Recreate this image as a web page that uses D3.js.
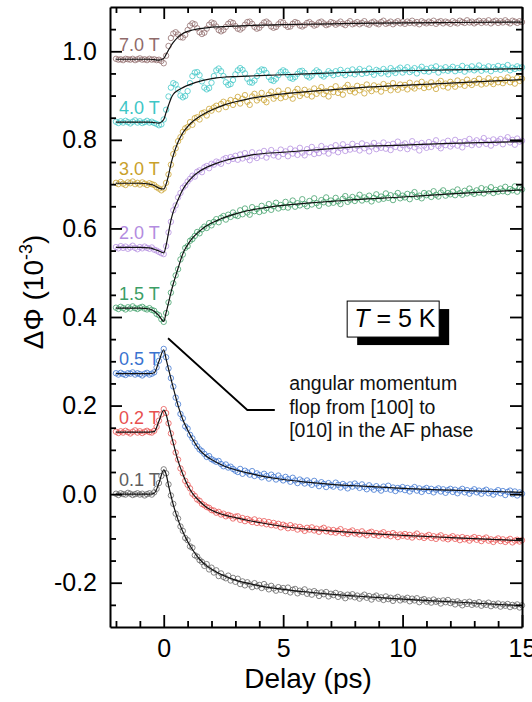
<!DOCTYPE html>
<html>
<head>
<meta charset="utf-8">
<script src="https://cdn.jsdelivr.net/npm/d3@7"></script>
<style>
html, body { margin: 0; padding: 0; background: #fff; }
svg { display: block; }
text { font-family: "Liberation Sans", Arial, sans-serif; }
</style>
</head>
<body>
<svg id="chart" width="532" height="702"></svg>
<script>
// Pump-probe delay (ps), one sample every 0.1 ps
const delay = [
  -2.0,-1.9,-1.8,-1.7,-1.6,-1.5,-1.4,-1.3,-1.2,-1.1,-1.0,-0.9,-0.8,-0.7,-0.6,-0.5,-0.4,-0.3,-0.2,-0.1,0.0,
  0.1,0.2,0.3,0.4,0.5,0.6,0.7,0.8,0.9,1.0,
  1.1,1.2,1.3,1.4,1.5,1.6,1.7,1.8,1.9,2.0,
  2.1,2.2,2.3,2.4,2.5,2.6,2.7,2.8,2.9,3.0,
  3.1,3.2,3.3,3.4,3.5,3.6,3.7,3.8,3.9,4.0,
  4.1,4.2,4.3,4.4,4.5,4.6,4.7,4.8,4.9,5.0,
  5.1,5.2,5.3,5.4,5.5,5.6,5.7,5.8,5.9,6.0,
  6.1,6.2,6.3,6.4,6.5,6.6,6.7,6.8,6.9,7.0,
  7.1,7.2,7.3,7.4,7.5,7.6,7.7,7.8,7.9,8.0,
  8.1,8.2,8.3,8.4,8.5,8.6,8.7,8.8,8.9,9.0,
  9.1,9.2,9.3,9.4,9.5,9.6,9.7,9.8,9.9,10.0,
  10.1,10.2,10.3,10.4,10.5,10.6,10.7,10.8,10.9,11.0,
  11.1,11.2,11.3,11.4,11.5,11.6,11.7,11.8,11.9,12.0,
  12.1,12.2,12.3,12.4,12.5,12.6,12.7,12.8,12.9,13.0,
  13.1,13.2,13.3,13.4,13.5,13.6,13.7,13.8,13.9,14.0,
  14.1,14.2,14.3,14.4,14.5,14.6,14.7,14.8,14.9,15.0
];

// Measured ΔΦ (10^-3) for each applied field
const phi_7T = [
  0.983,0.981,0.982,0.980,0.983,0.982,0.981,0.983,0.980,0.982,0.984,0.981,0.982,0.980,0.983,0.981,
  0.982,0.980,0.981,0.978,0.973,
  0.990,1.012,1.030,1.040,1.043,1.038,1.032,1.031,1.037,1.048,
  1.058,1.063,1.061,1.052,1.043,1.039,1.042,1.051,1.060,1.065,
  1.063,1.056,1.048,1.045,1.048,1.055,1.062,1.066,1.064,1.057,
  1.051,1.049,1.053,1.060,1.066,1.067,1.062,1.055,1.051,1.053,
  1.059,1.065,1.067,1.063,1.056,1.053,1.055,1.061,1.066,1.065,
  1.059,1.055,1.056,1.062,1.066,1.064,1.058,1.056,1.059,1.064,
  1.066,1.062,1.058,1.060,1.065,1.067,1.063,1.059,1.061,1.066,
  1.064,1.060,1.063,1.067,1.062,1.059,1.064,1.068,1.061,1.063,
  1.066,1.061,1.064,1.068,1.062,1.060,1.065,1.067,1.063,1.061,
  1.066,1.069,1.062,1.064,1.067,1.061,1.065,1.068,1.063,1.066,
  1.062,1.067,1.064,1.069,1.063,1.066,1.061,1.068,1.065,1.063,
  1.067,1.064,1.069,1.062,1.066,1.068,1.063,1.067,1.065,1.062,
  1.068,1.065,1.063,1.069,1.066,1.064,1.070,1.065,1.067,1.063,
  1.066,1.069,1.064,1.068,1.065,1.070,1.063,1.067,1.069,1.064,
  1.068,1.065,1.070,1.066,1.063,1.069,1.067,1.064,1.068,1.066
];
const phi_4T = [
  0.841,0.838,0.842,0.839,0.843,0.840,0.837,0.841,0.844,0.839,0.842,0.838,0.840,0.843,0.839,0.841,
  0.838,0.836,0.833,0.835,0.846,
  0.868,0.898,0.918,0.928,0.925,0.914,0.900,0.896,0.899,0.910,
  0.928,0.944,0.952,0.953,0.946,0.932,0.918,0.914,0.917,0.929,
  0.944,0.957,0.961,0.955,0.944,0.930,0.924,0.926,0.935,0.948,
  0.957,0.962,0.958,0.950,0.938,0.930,0.929,0.934,0.944,0.955,
  0.959,0.958,0.951,0.942,0.935,0.933,0.938,0.946,0.953,0.957,
  0.954,0.947,0.940,0.938,0.942,0.949,0.955,0.956,0.951,0.944,
  0.941,0.945,0.952,0.957,0.953,0.946,0.943,0.948,0.955,0.951,
  0.946,0.955,0.949,0.958,0.951,0.946,0.956,0.950,0.959,0.948,
  0.954,0.960,0.949,0.956,0.951,0.961,0.953,0.947,0.958,0.955,
  0.950,0.960,0.954,0.948,0.962,0.956,0.951,0.959,0.963,0.952,
  0.958,0.964,0.953,0.957,0.962,0.950,0.959,0.965,0.955,0.960,
  0.954,0.963,0.958,0.966,0.952,0.961,0.957,0.964,0.956,0.960,
  0.965,0.955,0.962,0.958,0.967,0.954,0.963,0.959,0.966,0.957,
  0.961,0.968,0.956,0.963,0.959,0.966,0.955,0.964,0.960,0.967,
  0.958,0.965,0.961,0.969,0.957,0.963,0.960,0.966,0.962,0.964
];
const phi_3T = [
  0.703,0.700,0.705,0.701,0.698,0.704,0.702,0.706,0.700,0.703,0.699,0.704,0.701,0.698,0.702,0.700,
  0.698,0.693,0.690,0.686,0.690,
  0.703,0.722,0.744,0.768,0.781,0.797,0.806,0.818,0.826,0.829,
  0.840,0.834,0.849,0.851,0.846,0.860,0.862,0.855,0.870,0.866,
  0.873,0.877,0.869,0.881,0.886,0.874,0.883,0.890,0.879,0.888,
  0.897,0.882,0.893,0.901,0.886,0.879,0.898,0.904,0.889,0.895,
  0.906,0.890,0.885,0.902,0.909,0.893,0.899,0.911,0.894,0.904,
  0.897,0.912,0.901,0.893,0.908,0.915,0.899,0.905,0.913,0.902,
  0.909,0.898,0.916,0.904,0.911,0.919,0.903,0.910,0.898,0.915,
  0.908,0.921,0.906,0.913,0.902,0.918,0.924,0.910,0.915,0.907,
  0.922,0.912,0.919,0.905,0.925,0.916,0.910,0.923,0.914,0.920,
  0.909,0.926,0.917,0.922,0.912,0.928,0.919,0.913,0.925,0.918,
  0.924,0.914,0.929,0.920,0.916,0.927,0.921,0.931,0.917,0.925,
  0.919,0.930,0.923,0.915,0.928,0.933,0.921,0.927,0.918,0.931,
  0.926,0.920,0.934,0.925,0.930,0.922,0.936,0.928,0.924,0.933,
  0.929,0.938,0.925,0.932,0.927,0.939,0.931,0.926,0.936,0.930,
  0.937,0.928,0.934,0.941,0.930,0.936,0.927,0.940,0.933,0.938
];
const phi_2T = [
  0.558,0.555,0.560,0.556,0.559,0.554,0.557,0.561,0.556,0.553,0.558,0.555,0.559,0.556,0.554,0.557,
  0.552,0.550,0.547,0.544,0.542,
  0.560,0.591,0.615,0.641,0.652,0.670,0.680,0.692,0.697,0.706,
  0.712,0.719,0.717,0.728,0.731,0.727,0.738,0.741,0.736,0.746,
  0.744,0.751,0.749,0.746,0.756,0.759,0.752,0.761,0.757,0.764,
  0.755,0.767,0.758,0.770,0.761,0.754,0.772,0.763,0.759,0.771,
  0.764,0.775,0.760,0.769,0.777,0.765,0.771,0.762,0.778,0.768,
  0.774,0.763,0.780,0.769,0.776,0.766,0.782,0.771,0.765,0.779,
  0.772,0.784,0.768,0.777,0.770,0.786,0.774,0.780,0.769,0.783,
  0.776,0.788,0.772,0.781,0.790,0.775,0.784,0.778,0.791,0.780,
  0.786,0.776,0.792,0.781,0.788,0.774,0.785,0.793,0.779,0.787,
  0.782,0.794,0.780,0.789,0.777,0.791,0.784,0.796,0.781,0.788,
  0.792,0.779,0.786,0.797,0.783,0.790,0.776,0.793,0.787,0.782,
  0.795,0.784,0.791,0.799,0.786,0.781,0.794,0.788,0.798,0.785,
  0.790,0.800,0.787,0.795,0.783,0.797,0.791,0.802,0.788,0.794,
  0.799,0.789,0.796,0.804,0.791,0.798,0.787,0.801,0.793,0.797,
  0.802,0.790,0.799,0.806,0.794,0.800,0.789,0.803,0.796,0.798
];
const phi_1p5T = [
  0.421,0.418,0.423,0.420,0.417,0.422,0.419,0.424,0.420,0.418,0.421,0.423,0.419,0.417,0.420,0.416,
  0.414,0.407,0.404,0.395,0.389,
  0.409,0.433,0.455,0.476,0.494,0.508,0.530,0.541,0.556,0.560,
  0.572,0.576,0.583,0.592,0.589,0.598,0.604,0.601,0.612,0.607,
  0.615,0.621,0.614,0.624,0.628,0.620,0.631,0.626,0.636,0.630,
  0.628,0.641,0.632,0.645,0.636,0.631,0.648,0.639,0.644,0.637,
  0.651,0.640,0.646,0.655,0.642,0.650,0.658,0.645,0.653,0.648,
  0.660,0.647,0.654,0.663,0.649,0.657,0.652,0.666,0.655,0.650,
  0.662,0.654,0.668,0.657,0.651,0.664,0.659,0.670,0.656,0.663,
  0.658,0.669,0.661,0.655,0.667,0.673,0.660,0.665,0.671,0.662,
  0.668,0.676,0.663,0.670,0.666,0.674,0.661,0.669,0.677,0.665,
  0.672,0.667,0.679,0.669,0.675,0.664,0.673,0.680,0.668,0.674,
  0.670,0.678,0.666,0.676,0.682,0.671,0.674,0.668,0.680,0.675,
  0.679,0.671,0.684,0.676,0.672,0.681,0.686,0.674,0.680,0.677,
  0.683,0.675,0.688,0.680,0.676,0.685,0.679,0.690,0.682,0.678,
  0.686,0.681,0.691,0.679,0.688,0.684,0.693,0.680,0.687,0.683,
  0.690,0.684,0.694,0.682,0.689,0.686,0.695,0.683,0.691,0.688
];
const phi_0p5T = [
  0.273,0.270,0.274,0.271,0.269,0.273,0.272,0.275,0.270,0.273,0.271,0.268,0.272,0.274,0.270,0.272,
  0.275,0.286,0.301,0.315,0.328,
  0.309,0.284,0.262,0.243,0.218,0.203,0.181,0.171,0.153,0.148,
  0.134,0.126,0.116,0.108,0.101,0.097,0.091,0.084,0.086,0.079,
  0.076,0.073,0.075,0.068,0.063,0.067,0.060,0.062,0.057,0.053,
  0.050,0.057,0.046,0.053,0.049,0.044,0.052,0.041,0.047,0.043,
  0.038,0.046,0.041,0.035,0.044,0.039,0.033,0.042,0.036,0.031,
  0.039,0.034,0.028,0.037,0.031,0.025,0.033,0.029,0.024,0.031,
  0.026,0.021,0.030,0.024,0.018,0.027,0.023,0.016,0.025,0.020,
  0.017,0.026,0.021,0.015,0.023,0.019,0.013,0.022,0.017,0.024,
  0.019,0.014,0.022,0.016,0.011,0.020,0.015,0.010,0.018,0.013,
  0.008,0.017,0.012,0.019,0.010,0.015,0.007,0.014,0.011,0.016,
  0.009,0.014,0.006,0.012,0.016,0.008,0.013,0.005,0.011,0.014,
  0.007,0.012,0.004,0.010,0.013,0.006,0.011,0.003,0.009,0.012,
  0.005,0.010,0.002,0.008,0.012,0.004,0.009,0.001,0.007,0.011,
  0.004,0.008,0.001,0.007,0.010,0.002,0.006,-0.001,0.005,0.009,
  0.002,0.007,-0.002,0.005,0.008,0.000,0.006,-0.003,0.004,0.001
];
const phi_0p2T = [
  0.141,0.138,0.142,0.139,0.143,0.140,0.137,0.141,0.144,0.139,0.142,0.138,0.141,0.143,0.140,0.139,
  0.143,0.152,0.166,0.180,0.192,
  0.183,0.160,0.137,0.117,0.094,0.078,0.058,0.047,0.030,0.021,
  0.013,0.001,-0.004,-0.012,-0.015,-0.022,-0.025,-0.029,-0.031,-0.036,
  -0.037,-0.042,-0.040,-0.046,-0.044,-0.050,-0.047,-0.049,-0.055,-0.051,
  -0.050,-0.058,-0.054,-0.061,-0.056,-0.059,-0.063,-0.057,-0.065,-0.060,
  -0.066,-0.061,-0.068,-0.063,-0.070,-0.065,-0.071,-0.067,-0.075,-0.069,
  -0.072,-0.077,-0.070,-0.076,-0.073,-0.080,-0.074,-0.078,-0.083,-0.076,
  -0.080,-0.075,-0.082,-0.078,-0.085,-0.079,-0.076,-0.084,-0.080,-0.086,
  -0.081,-0.087,-0.083,-0.079,-0.088,-0.084,-0.090,-0.085,-0.082,-0.089,
  -0.086,-0.091,-0.084,-0.089,-0.093,-0.087,-0.085,-0.092,-0.088,-0.094,
  -0.089,-0.086,-0.093,-0.090,-0.095,-0.088,-0.092,-0.097,-0.091,-0.094,
  -0.090,-0.096,-0.092,-0.098,-0.093,-0.089,-0.097,-0.094,-0.099,-0.095,
  -0.092,-0.099,-0.095,-0.101,-0.096,-0.093,-0.100,-0.097,-0.102,-0.098,
  -0.095,-0.101,-0.098,-0.104,-0.097,-0.102,-0.099,-0.105,-0.100,-0.097,
  -0.103,-0.099,-0.106,-0.101,-0.098,-0.105,-0.102,-0.108,-0.103,-0.100,
  -0.106,-0.102,-0.108,-0.104,-0.101,-0.109,-0.105,-0.103,-0.107,-0.104
];
const phi_0p1T = [
  0.001,-0.002,0.002,0.000,-0.001,0.003,0.001,-0.002,0.000,0.002,-0.001,0.001,-0.003,0.000,0.002,-0.001,
  0.004,0.012,0.025,0.041,0.056,
  0.047,0.022,-0.003,-0.022,-0.044,-0.055,-0.073,-0.083,-0.099,-0.104,
  -0.118,-0.121,-0.138,-0.141,-0.149,-0.153,-0.162,-0.158,-0.170,-0.166,
  -0.177,-0.172,-0.185,-0.179,-0.187,-0.190,-0.184,-0.195,-0.189,-0.198,
  -0.191,-0.203,-0.197,-0.206,-0.199,-0.204,-0.210,-0.201,-0.208,-0.205,
  -0.212,-0.203,-0.209,-0.215,-0.207,-0.213,-0.218,-0.210,-0.216,-0.212,
  -0.219,-0.211,-0.222,-0.216,-0.214,-0.224,-0.218,-0.221,-0.215,-0.225,
  -0.220,-0.227,-0.219,-0.223,-0.230,-0.222,-0.226,-0.221,-0.231,-0.225,
  -0.228,-0.223,-0.232,-0.226,-0.229,-0.235,-0.227,-0.231,-0.226,-0.233,
  -0.229,-0.236,-0.231,-0.227,-0.234,-0.230,-0.238,-0.232,-0.229,-0.236,
  -0.233,-0.239,-0.231,-0.237,-0.234,-0.241,-0.235,-0.232,-0.240,-0.236,
  -0.238,-0.234,-0.242,-0.236,-0.240,-0.235,-0.244,-0.239,-0.237,-0.243,
  -0.240,-0.245,-0.238,-0.243,-0.241,-0.247,-0.240,-0.244,-0.239,-0.246,
  -0.243,-0.249,-0.242,-0.246,-0.251,-0.244,-0.248,-0.243,-0.250,-0.246,
  -0.249,-0.244,-0.252,-0.247,-0.250,-0.245,-0.253,-0.248,-0.251,-0.247,
  -0.254,-0.249,-0.252,-0.248,-0.255,-0.250,-0.253,-0.249,-0.256,-0.251
];

// Model fits, sampled on a coarser delay grid
const fitDelay = [-2,-1,-0.6,-0.4,-0.2,0,0.1,0.2,0.3,0.4,0.6,0.8,1,1.2,1.5,1.8,2.2,2.6,3,3.5,4,5,6,7,8,10,12,15];
const fit_7T   = [0.982,0.982,0.982,0.981,0.980,0.984,0.993,1.003,1.012,1.020,1.032,1.040,1.045,1.048,1.051,1.053,1.055,1.056,1.057,1.058,1.059,1.060,1.061,1.062,1.063,1.064,1.065,1.066];
const fit_4T   = [0.840,0.840,0.840,0.839,0.838,0.846,0.862,0.878,0.893,0.903,0.912,0.918,0.923,0.927,0.932,0.936,0.940,0.942,0.943,0.944,0.945,0.947,0.949,0.951,0.953,0.956,0.958,0.961];
const fit_3T   = [0.702,0.702,0.700,0.697,0.691,0.689,0.700,0.720,0.745,0.765,0.795,0.816,0.830,0.841,0.853,0.862,0.872,0.880,0.886,0.892,0.897,0.904,0.909,0.913,0.917,0.923,0.928,0.936];
const fit_2T   = [0.557,0.557,0.556,0.553,0.549,0.545,0.562,0.590,0.618,0.638,0.665,0.688,0.704,0.716,0.729,0.738,0.747,0.754,0.759,0.764,0.768,0.772,0.776,0.780,0.784,0.788,0.792,0.796];
const fit_1p5T = [0.420,0.420,0.418,0.413,0.403,0.390,0.410,0.432,0.455,0.475,0.510,0.543,0.563,0.578,0.594,0.606,0.617,0.626,0.633,0.640,0.645,0.652,0.657,0.661,0.665,0.671,0.678,0.687];
const fit_0p5T = [0.272,0.272,0.272,0.274,0.300,0.326,0.305,0.283,0.261,0.240,0.200,0.168,0.145,0.125,0.100,0.085,0.072,0.062,0.055,0.048,0.042,0.033,0.027,0.022,0.019,0.013,0.009,0.004];
const fit_0p2T = [0.140,0.140,0.140,0.141,0.165,0.190,0.180,0.158,0.136,0.115,0.075,0.045,0.020,0.002,-0.016,-0.030,-0.041,-0.048,-0.053,-0.059,-0.064,-0.073,-0.079,-0.083,-0.087,-0.093,-0.098,-0.105];
const fit_0p1T = [0.000,0.000,0.000,0.002,0.025,0.055,0.045,0.020,-0.003,-0.024,-0.058,-0.085,-0.107,-0.125,-0.147,-0.162,-0.176,-0.186,-0.194,-0.201,-0.207,-0.215,-0.221,-0.226,-0.230,-0.237,-0.243,-0.252];

const fieldLabels = ["7.0 T","4.0 T","3.0 T","2.0 T","1.5 T","0.5 T","0.2 T","0.1 T"];
const fieldColors = ["#8f6b6b","#3ec6c6","#c9a12b","#b38ce0","#3c9e66","#3a73d0","#e8504f","#606060"];
const measured = [phi_7T, phi_4T, phi_3T, phi_2T, phi_1p5T, phi_0p5T, phi_0p2T, phi_0p1T];
const fitted   = [fit_7T, fit_4T, fit_3T, fit_2T, fit_1p5T, fit_0p5T, fit_0p2T, fit_0p1T];

// Axis ticks
const xMajor = [0, 5, 10, 15];
const xMajorLabels = ["0", "5", "10", "15"];
const xMinor = [-2,-1,1,2,3,4,6,7,8,9,11,12,13,14];
const yMajor = [-0.2, 0, 0.2, 0.4, 0.6, 0.8, 1.0];
const yMajorLabels = ["-0.2", "0.0", "0.2", "0.4", "0.6", "0.8", "1.0"];
const yMinor = [-0.25,-0.15,-0.1,-0.05,0.05,0.1,0.15,0.25,0.3,0.35,0.45,0.5,0.55,0.65,0.7,0.75,0.85,0.9,0.95,1.05];

const series = fieldLabels.map((label, k) => ({
  label, color: fieldColors[k],
  points: delay.map((t, i) => ({ t, v: measured[k][i] })),
  fit: fitDelay.map((t, i) => ({ t, v: fitted[k][i] }))
}));

const svg = d3.select("#chart");
const frame = { left: 110, right: 522, top: 7, bottom: 627 };
const x = d3.scaleLinear().domain([-2.25, 15]).range([frame.left, frame.right]);
const y = d3.scaleLinear().domain([-0.3, 1.1]).range([frame.bottom, frame.top]);

// data markers
const gData = svg.append("g");
series.forEach(s => {
  gData.append("g")
    .selectAll("circle")
    .data(s.points)
    .join("circle")
    .attr("cx", d => x(d.t))
    .attr("cy", d => y(d.v))
    .attr("r", 2.7)
    .attr("fill", "none")
    .attr("stroke", s.color)
    .attr("stroke-opacity", 0.85)
    .attr("stroke-width", 0.9);
});

// fit curves
const line = d3.line().x(d => x(d.t)).y(d => y(d.v)).curve(d3.curveMonotoneX);
svg.append("g").selectAll("path")
  .data(series)
  .join("path")
  .attr("d", s => line(s.fit))
  .attr("fill", "none")
  .attr("stroke", "#111")
  .attr("stroke-width", 1.2);

// field labels above each baseline
svg.append("g").selectAll("text")
  .data(series)
  .join("text")
  .attr("x", frame.left + 9)
  .attr("y", s => y(s.points[0].v) - 8)
  .attr("fill", s => s.color)
  .attr("font-size", 18)
  .text(s => s.label);

// axes
function styleAxis(g, keepDomain) {
  g.attr("font-family", null).attr("font-size", null);
  g.select(".domain").attr("stroke-width", keepDomain ? 2 : 0).attr("stroke", "#000");
  g.selectAll(".tick line").attr("stroke", "#000").attr("stroke-width", 1.8);
  g.selectAll(".tick text").attr("font-size", 25).attr("fill", "#000")
    .attr("font-family", '"Liberation Sans", Arial, sans-serif');
}
function addAxis(gen, transform, ticks, size, labels, keepDomain) {
  const a = gen.tickValues(ticks).tickSize(-size).tickSizeOuter(0)
    .tickFormat(labels ? (d, i) => labels[i] : () => "");
  const g = svg.append("g").attr("transform", transform).call(a);
  styleAxis(g, keepDomain);
  return g;
}
addAxis(d3.axisLeft(y).tickPadding(13), `translate(${frame.left},0)`, yMinor, 6, null, false);
addAxis(d3.axisRight(y), `translate(${frame.right},0)`, yMinor, 6, null, false);
addAxis(d3.axisBottom(x), `translate(0,${frame.bottom})`, xMinor, 6, null, false);
addAxis(d3.axisTop(x), `translate(0,${frame.top})`, xMinor, 6, null, false);
addAxis(d3.axisLeft(y).tickPadding(13), `translate(${frame.left},0)`, yMajor, 12, yMajorLabels, true);
addAxis(d3.axisRight(y), `translate(${frame.right},0)`, yMajor, 12, null, true);
addAxis(d3.axisBottom(x).tickPadding(12), `translate(0,${frame.bottom})`, xMajor, 12, xMajorLabels, true);
addAxis(d3.axisTop(x), `translate(0,${frame.top})`, xMajor, 12, null, true);

// axis titles
svg.append("text")
  .attr("x", (frame.left + frame.right) / 2 - 8)
  .attr("y", 688)
  .attr("text-anchor", "middle")
  .attr("font-size", 28)
  .text("Delay (ps)");

const yTitle = svg.append("text")
  .attr("transform", `translate(43,${(frame.top + frame.bottom) / 2 - 25}) rotate(-90)`)
  .attr("text-anchor", "middle")
  .attr("font-size", 28);
yTitle.append("tspan").text("ΔΦ (10");
yTitle.append("tspan").attr("font-size", 18).attr("dy", -11).text("-3");
yTitle.append("tspan").attr("dy", 11).text(")");

// annotation: leader line and caption
const leader = [[0.18, 0.352], [3.5, 0.19], [4.65, 0.19]];
svg.append("path")
  .attr("d", d3.line().x(d => x(d[0])).y(d => y(d[1]))(leader))
  .attr("fill", "none")
  .attr("stroke", "#000")
  .attr("stroke-width", 1.8);

const caption = ["angular momentum", "flop from [100] to", "[010] in the AF phase"];
svg.append("g").selectAll("text")
  .data(caption)
  .join("text")
  .attr("x", x(5.25))
  .attr("y", (d, i) => y(0.235) + i * 23.5)
  .attr("font-family", "Lato, 'Open Sans', sans-serif")
  .attr("font-size", 19.5)
  .attr("fill", "#111")
  .text(d => d);

// temperature box with drop shadow
const bx = x(7.68), by = y(0.436), bw = 92, bh = 36;
svg.append("rect").attr("x", bx + 10).attr("y", by + 8).attr("width", bw).attr("height", bh).attr("fill", "#000");
svg.append("rect").attr("x", bx).attr("y", by).attr("width", bw).attr("height", bh)
  .attr("fill", "#fff").attr("stroke", "#000").attr("stroke-width", 1);
const tText = svg.append("text").attr("x", bx + 7).attr("y", by + 26).attr("font-size", 25);
tText.append("tspan").attr("font-style", "italic").text("T");
tText.append("tspan").text(" = 5 K");
</script>
</body>
</html>
